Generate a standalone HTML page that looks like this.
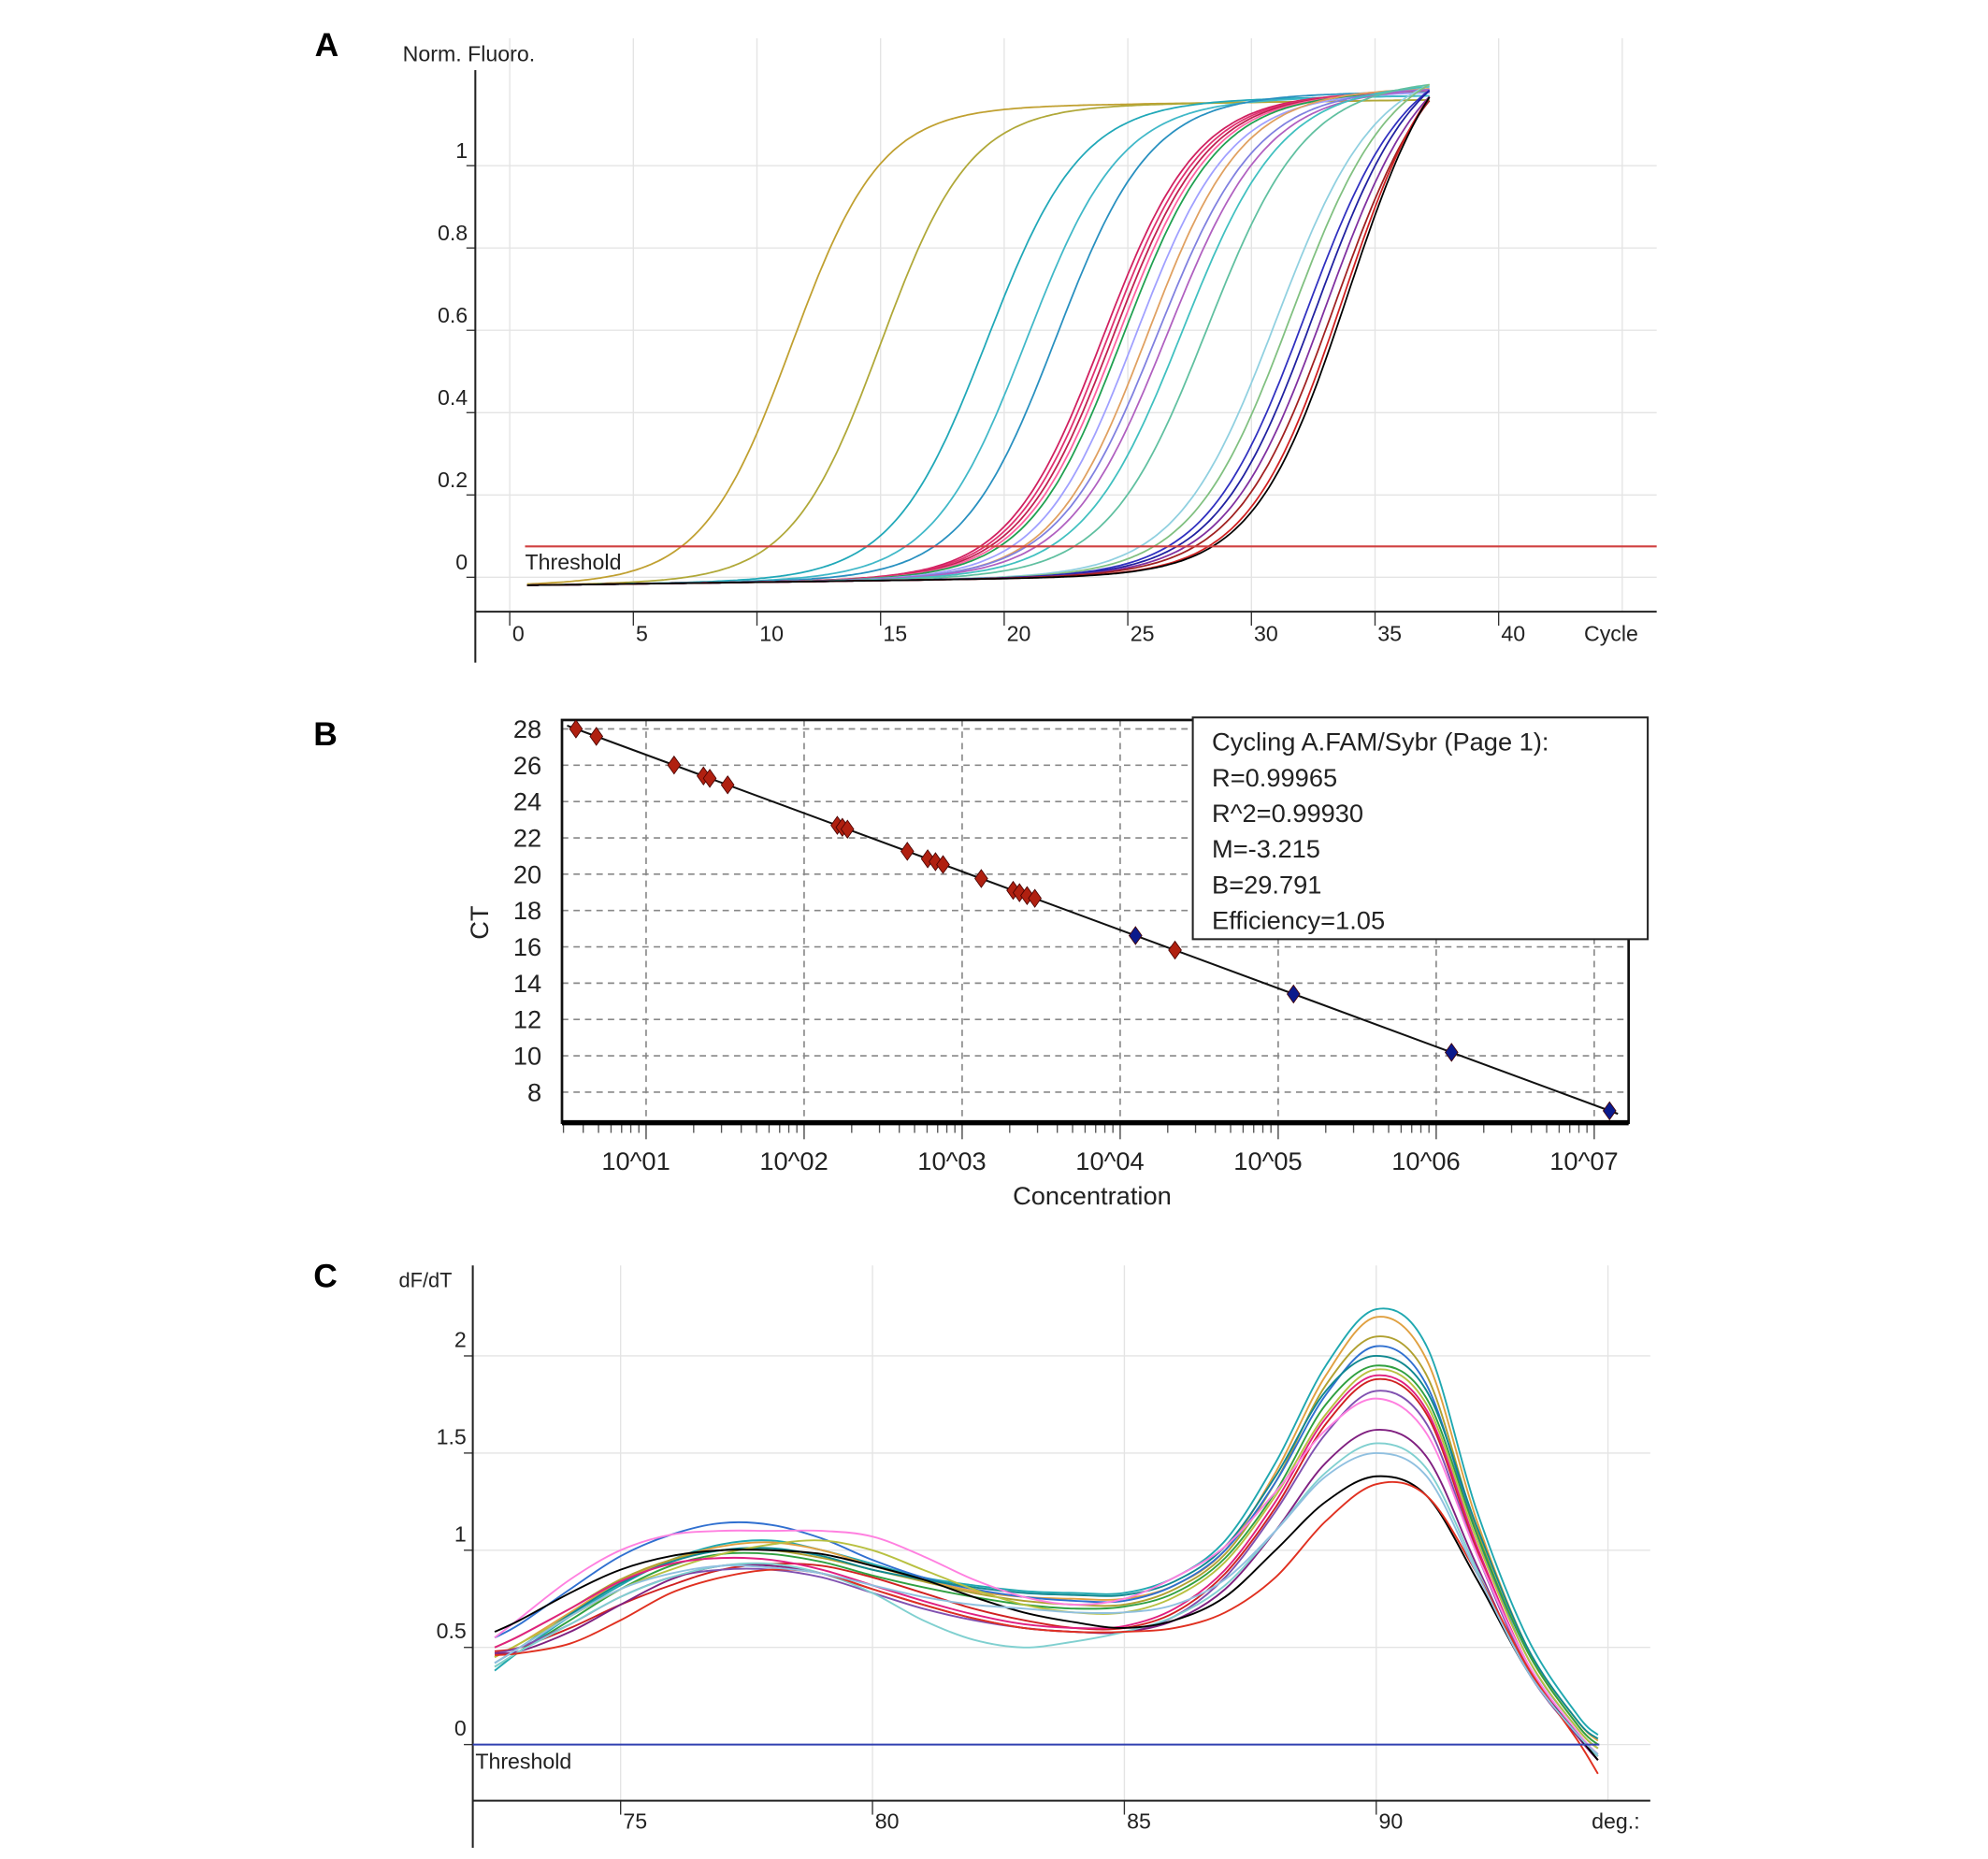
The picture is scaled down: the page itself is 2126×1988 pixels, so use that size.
<!DOCTYPE html>
<html><head><meta charset="utf-8"><style>
html,body{margin:0;padding:0;background:#fff;}
svg{display:block;}
text{font-family:"Liberation Sans",sans-serif;}
</style></head><body>
<svg id="fig" width="2126" height="1988" viewBox="0 0 1560 1458.8" preserveAspectRatio="none" xmlns="http://www.w3.org/2000/svg">
<rect x="0" y="0" width="1560" height="1460" fill="#fff"/>
<g id="pA"></g>
<g id="pB"></g>
<g id="pC"></g>
</svg>
<script>
// ---------- Panel A data ----------
const ampMid = [11.4,15.0,19.3,20.9,22.1,24.0,24.2,24.4,24.6,24.8,25.3,25.8,26.2,26.6,27.2,28.2,31.0,31.6,32.2,32.6,33.0,33.4,33.7,33.9];
const ampK = [1.8,1.8,1.9,1.9,1.9,1.9,1.9,1.9,1.9,1.9,1.9,1.9,2.0,2.0,2.0,2.0,2.0,2.0,2.0,2.0,2.0,2.0,1.9,1.9];
const ampTop = [1.13,1.13,1.14,1.14,1.15,1.15,1.15,1.15,1.15,1.15,1.15,1.16,1.16,1.16,1.17,1.18,1.22,1.24,1.25,1.27,1.28,1.3,1.32,1.34];
const ampColors = ["#c0a030","#b0a838","#20a8b8","#40b8c8","#2890c0","#d02060","#e03070","#c02050","#ff60a0","#20a050","#a0a0ff","#e0a060","#8080e0","#b060c0","#40c0c0","#60c0a0","#90d0e0","#80c080","#3030c0","#2020a0","#8030a0","#a02020","#d02020","#000000"];
const ampXTicks = [0,5,10,15,20,25,30,35,40];
const ampYTicks = [0,0.2,0.4,0.6,0.8,1];
const ampYTickLabels = ["0","0.2","0.4","0.6","0.8","1"];
const ampThreshold = 0.075;

// ---------- Panel B data ----------
const stdLogConc = [0.556,0.685,1.177,1.363,1.403,1.516,2.21,2.242,2.274,2.653,2.782,2.831,2.879,3.121,3.323,3.363,3.411,3.46,4.347,4.097,5.097,6.097,7.097];
const stdCT = [28.0,27.59,26.01,25.41,25.28,24.92,22.69,22.58,22.48,21.26,20.85,20.69,20.53,19.76,19.11,18.98,18.82,18.67,15.82,16.62,13.40,10.19,6.97];
const stdType = ["u","u","u","u","u","u","u","u","u","u","u","u","u","u","u","u","u","u","u","s","s","s","s"];
const fitM = -3.215;
const fitB = 29.791;
const stdYTicks = [8,10,12,14,16,18,20,22,24,26,28];
const stdXTicks = [1,2,3,4,5,6,7];
const stdXTickLabels = ["10^01","10^02","10^03","10^04","10^05","10^06","10^07"];
const legendLines = ["Cycling A.FAM/Sybr (Page 1):","R=0.99965","R^2=0.99930","M=-3.215","B=29.791","Efficiency=1.05"];

// ---------- Panel C data ----------
const meltTemps = [72.5,73,74,75,76,77,78,79,80,81,82,83,84,85,86,87,88,89,90,91,92,93,94,94.4];
const meltS1 = [0.38,0.48,0.66,0.82,0.95,1.03,1.05,1.0,0.93,0.86,0.82,0.79,0.78,0.78,0.86,1.05,1.45,1.95,2.24,2.05,1.2,0.55,0.15,0.05];
const meltS2 = [0.45,0.52,0.68,0.84,0.95,1.02,1.04,1.0,0.92,0.85,0.79,0.76,0.75,0.75,0.82,1.0,1.4,1.9,2.2,1.98,1.15,0.5,0.12,0.02];
const meltS3 = [0.5,0.56,0.7,0.85,0.95,1.0,1.0,0.96,0.9,0.84,0.78,0.74,0.72,0.72,0.8,0.98,1.35,1.85,2.1,1.9,1.1,0.48,0.1,0.0];
const meltS4 = [0.55,0.62,0.8,0.97,1.08,1.14,1.13,1.06,0.95,0.86,0.8,0.76,0.74,0.74,0.82,1.0,1.35,1.8,2.05,1.85,1.08,0.45,0.08,-0.02];
const meltS5 = [0.42,0.5,0.67,0.83,0.94,1.0,1.01,0.97,0.9,0.85,0.81,0.78,0.77,0.77,0.84,1.02,1.38,1.82,2.0,1.82,1.12,0.5,0.12,0.03];
const meltS6 = [0.4,0.48,0.64,0.8,0.92,0.98,0.98,0.94,0.87,0.81,0.76,0.72,0.7,0.71,0.78,0.96,1.3,1.75,1.95,1.78,1.08,0.48,0.1,0.0];
const meltS7 = [0.45,0.52,0.66,0.8,0.9,0.98,1.03,1.05,1.0,0.9,0.8,0.72,0.68,0.68,0.76,0.94,1.28,1.7,1.93,1.75,1.05,0.45,0.08,-0.02];
const meltS8 = [0.48,0.5,0.6,0.72,0.82,0.9,0.93,0.92,0.86,0.78,0.7,0.64,0.6,0.6,0.68,0.88,1.22,1.65,1.88,1.7,1.0,0.4,0.05,-0.08];
const meltS9 = [0.5,0.56,0.7,0.84,0.93,0.96,0.95,0.9,0.82,0.74,0.67,0.62,0.6,0.61,0.7,0.9,1.25,1.68,1.9,1.72,1.02,0.42,0.06,-0.05];
const meltS10 = [0.47,0.5,0.62,0.76,0.86,0.9,0.9,0.86,0.78,0.7,0.64,0.6,0.58,0.58,0.66,0.86,1.2,1.6,1.82,1.65,0.98,0.4,0.05,-0.06];
const meltS11 = [0.55,0.65,0.85,1.0,1.08,1.1,1.1,1.1,1.07,0.97,0.85,0.76,0.72,0.75,0.86,1.02,1.3,1.62,1.78,1.6,0.98,0.42,0.06,-0.05];
const meltS12 = [0.47,0.48,0.58,0.72,0.85,0.92,0.92,0.88,0.8,0.72,0.65,0.6,0.58,0.58,0.64,0.8,1.1,1.45,1.62,1.48,0.92,0.38,0.04,-0.08];
const meltS13 = [0.4,0.48,0.62,0.76,0.86,0.92,0.93,0.88,0.78,0.64,0.54,0.5,0.53,0.58,0.66,0.82,1.1,1.4,1.55,1.42,0.9,0.38,0.05,-0.06];
const meltS14 = [0.58,0.64,0.78,0.9,0.97,1.0,1.0,0.98,0.92,0.85,0.76,0.68,0.63,0.6,0.64,0.76,1.0,1.25,1.38,1.28,0.85,0.38,0.05,-0.08];
const meltS15 = [0.46,0.47,0.52,0.64,0.78,0.86,0.9,0.88,0.8,0.72,0.65,0.6,0.58,0.58,0.6,0.68,0.86,1.15,1.34,1.28,0.88,0.4,0.02,-0.15];
const meltS16 = [0.42,0.5,0.66,0.8,0.88,0.92,0.91,0.88,0.82,0.76,0.72,0.7,0.68,0.68,0.72,0.85,1.1,1.38,1.5,1.38,0.88,0.38,0.05,-0.05];
const meltSeries = [meltS1,meltS2,meltS3,meltS4,meltS5,meltS6,meltS7,meltS8,meltS9,meltS10,meltS11,meltS12,meltS13,meltS14,meltS15,meltS16];
const meltColors = ["#20a8b0","#e0a040","#b0a030","#3070d0","#108890","#30a040","#b8c040","#d02020","#e02080","#8050b0","#ff80e0","#802080","#80d0d0","#000000","#e03020","#90c0e0"];
const meltXTicks = [75,80,85,90];
const meltYTicks = [0,0.5,1,1.5,2];
const meltYTickLabels = ["0","0.5","1","1.5","2"];

const NS = "http://www.w3.org/2000/svg";
function mk(parent, tag, attrs, txt){
  const e = document.createElementNS(NS, tag);
  for (const k in attrs) e.setAttribute(k, attrs[k]);
  if (txt !== undefined) e.textContent = txt;
  parent.appendChild(e);
  return e;
}
function smoothPath(pts){
  let d = "M"+pts[0][0].toFixed(1)+","+pts[0][1].toFixed(1);
  for (let i=0;i<pts.length-1;i++){
    const p0=pts[Math.max(0,i-1)], p1=pts[i], p2=pts[i+1], p3=pts[Math.min(pts.length-1,i+2)];
    const c1x=p1[0]+(p2[0]-p0[0])/6, c1y=p1[1]+(p2[1]-p0[1])/6;
    const c2x=p2[0]-(p3[0]-p1[0])/6, c2y=p2[1]-(p3[1]-p1[1])/6;
    d+=" C"+c1x.toFixed(1)+","+c1y.toFixed(1)+" "+c2x.toFixed(1)+","+c2y.toFixed(1)+" "+p2[0].toFixed(1)+","+p2[1].toFixed(1);
  }
  return d;
}

// ---------- Panel A ----------
(function(){
  const g = document.getElementById('pA');
  const ax = c => 400 + c*19.4;
  const ay = v => 453 - v*323;
  let t = mk(g,'text',{x:247,y:44,'font-family':'Liberation Serif, serif','font-weight':'bold','font-size':26});
  t.textContent='A';
  
  
  t = mk(g,'text',{x:316,y:48,'font-size':17,fill:'#222'},'Norm. Fluoro.');
  
  
  // grid
  ampXTicks.concat([45]).forEach(c=>{
    const l = mk(g,'line',{x1:ax(c),x2:ax(c),y1:30,y2:480,stroke:'#e4e4e4','stroke-width':1});
    
    
  });
  ampYTicks.forEach((v,i)=>{
    const l = mk(g,'line',{x1:373,x2:1300,y1:ay(v),y2:ay(v),stroke:'#e4e4e4','stroke-width':1});
    
    
    mk(g,'line',{x1:366,x2:373,y1:ay(v),y2:ay(v),stroke:'#333','stroke-width':1});
    const tx = mk(g,'text',{x:367,y:ay(v)-6,'font-size':17,'text-anchor':'end',fill:'#222'},ampYTickLabels[i]);
    
    
  });
  ampXTicks.forEach(c=>{
    mk(g,'line',{x1:ax(c),x2:ax(c),y1:480,y2:491,stroke:'#333','stroke-width':1});
    const tx = mk(g,'text',{x:ax(c)+2,y:503,'font-size':17,fill:'#222'},String(c));
    
    
  });
  t = mk(g,'text',{x:1243,y:503,'font-size':17,fill:'#222'},'Cycle');
  
  
  // axes
  let a = mk(g,'line',{x1:373,x2:373,y1:55,y2:520,stroke:'#222','stroke-width':1.5});
  
  
  a = mk(g,'line',{x1:373,x2:1300,y1:480,y2:480,stroke:'#222','stroke-width':1.5});
  
  
  // curves
  ampMid.forEach((m,i)=>{
    const pts=[];
    for(let c=0.7;c<=37.35;c+=0.25){
      const v = -0.02 + (ampTop[i]+0.02)/(1+Math.exp(-(c-m)/ampK[i])) + 0.0008*c;
      pts.push([ax(c),ay(v)]);
    }
    const p = mk(g,'path',{d:smoothPath(pts),fill:'none',stroke:ampColors[i],'stroke-width':1.3});
    
    
  });
  const th = mk(g,'line',{x1:412,x2:1300,y1:ay(ampThreshold),y2:ay(ampThreshold),stroke:'#d04040','stroke-width':1.5});
  
  
  t = mk(g,'text',{x:412,y:447,'font-size':17,fill:'#222'},'Threshold');
  
  
})();

// ---------- Panel B ----------
(function(){
  const g = document.getElementById('pB');
  const bx = l => 507 + (l-1)*124;
  const by = v => 572 + (28-v)*14.25;
  let t = mk(g,'text',{x:246,y:585,'font-family':'Liberation Serif, serif','font-weight':'bold','font-size':26},'B');
  
  
  stdYTicks.forEach(v=>{
    const l = mk(g,'line',{x1:441,x2:1278,y1:by(v),y2:by(v),stroke:'#888','stroke-width':1.2,'stroke-dasharray':'5,4'});
    
    
    const tx = mk(g,'text',{x:425,y:by(v)+7,'font-size':20,'text-anchor':'end',fill:'#222'},String(v));
    
    
  });
  stdXTicks.forEach((d,i)=>{
    const l = mk(g,'line',{x1:bx(d),x2:bx(d),y1:565,y2:880,stroke:'#888','stroke-width':1.2,'stroke-dasharray':'5,4'});
    
    
    for(let k=2;k<10;k+=1){
      const xm = bx(d-1+Math.log10(k));
      if (xm>441) mk(g,'line',{x1:xm,x2:xm,y1:882,y2:889,stroke:'#555','stroke-width':1});
    }
    mk(g,'line',{x1:bx(d),x2:bx(d),y1:882,y2:894,stroke:'#444','stroke-width':1});
    const tx = mk(g,'text',{x:bx(d)-8,y:918,'font-size':20,'text-anchor':'middle',fill:'#222'},stdXTickLabels[i]);
    
    
  });
  t = mk(g,'text',{x:857,y:945,'font-size':20,'text-anchor':'middle',fill:'#222'},'Concentration');
  
  
  t = mk(g,'text',{x:383,y:724,'font-size':20,'text-anchor':'middle',fill:'#222',transform:'rotate(-90 383 724)'},'CT');
  
  
  let a = mk(g,'rect',{x:441,y:565,width:837,height:316,fill:'none',stroke:'#111','stroke-width':2});
  
  
  a = mk(g,'line',{x1:441,x2:1278,y1:881,y2:881,stroke:'#000','stroke-width':4});
  
  
  // fit line
  const l0=0.5, l1=7.15;
  const fl = mk(g,'line',{x1:bx(l0),y1:by(fitM*l0+fitB),x2:bx(l1),y2:by(fitM*l1+fitB),stroke:'#111','stroke-width':1.5});
  
  
  stdLogConc.forEach((l,i)=>{
    const x=bx(l), y=by(stdCT[i]);
    const col = stdType[i]==='s' ? '#0a1a8c' : '#b02010';
    const p = mk(g,'path',{d:`M${x},${y-7} L${x+5},${y} L${x},${y+7} L${x-5},${y} Z`,fill:col,stroke:'#400','stroke-width':0.6});
    
    
  });
  const lg = mk(g,'g',{});
  
  
  mk(lg,'rect',{x:936,y:563,width:357,height:174,fill:'#fff',stroke:'#222','stroke-width':1.5});
  legendLines.forEach((s,i)=>{
    const tx = mk(lg,'text',{x:951,y:589+i*28,'font-size':20,fill:'#222'},s);
    
    
  });
})();

// ---------- Panel C ----------
(function(){
  const g = document.getElementById('pC');
  const cx = tt => 487 + (tt-75)*39.53;
  const cy = v => 1369 - v*152.5;
  let t = mk(g,'text',{x:246,y:1010,'font-family':'Liberation Serif, serif','font-weight':'bold','font-size':26},'C');
  
  
  t = mk(g,'text',{x:313,y:1010,'font-size':16,fill:'#222'},'dF/dT');
  
  
  meltXTicks.concat([94.6]).forEach(v=>{
    const l = mk(g,'line',{x1:cx(v),x2:cx(v),y1:993,y2:1413,stroke:'#e4e4e4','stroke-width':1});
    
    
  });
  meltYTicks.forEach((v,i)=>{
    const l = mk(g,'line',{x1:371,x2:1295,y1:cy(v),y2:cy(v),stroke:'#e4e4e4','stroke-width':1});
    
    
    mk(g,'line',{x1:364,x2:371,y1:cy(v),y2:cy(v),stroke:'#333','stroke-width':1});
    const tx = mk(g,'text',{x:366,y:cy(v)-7,'font-size':17,'text-anchor':'end',fill:'#222'},meltYTickLabels[i]);
    
    
  });
  meltXTicks.forEach(v=>{
    mk(g,'line',{x1:cx(v),x2:cx(v),y1:1413,y2:1424,stroke:'#333','stroke-width':1});
    const tx = mk(g,'text',{x:cx(v)+2,y:1435,'font-size':17,fill:'#222'},String(v));
    
    
  });
  const clip = mk(g,'clipPath',{id:'degclip'});
  mk(clip,'rect',{x:1240,y:1410,width:55,height:40});
  t = mk(g,'text',{x:1249,y:1435,'font-size':17,fill:'#222','clip-path':'url(#degclip)'},'deg.:');
  
  
  let a = mk(g,'line',{x1:371,x2:371,y1:993,y2:1450,stroke:'#222','stroke-width':1.5});
  
  
  a = mk(g,'line',{x1:371,x2:1295,y1:1413,y2:1413,stroke:'#222','stroke-width':1.5});
  
  
  meltSeries.forEach((s,i)=>{
    const pts = meltTemps.map((tt,j)=>[cx(tt),cy(s[j])]);
    const p = mk(g,'path',{d:smoothPath(pts),fill:'none',stroke:meltColors[i],'stroke-width':1.4});
    
    
  });
  const th = mk(g,'line',{x1:371,x2:1255,y1:cy(0),y2:cy(0),stroke:'#3040b0','stroke-width':1.5});
  
  
  t = mk(g,'text',{x:373,y:1388,'font-size':17,fill:'#222'},'Threshold');
  
  
})();
</script>
</body></html>
